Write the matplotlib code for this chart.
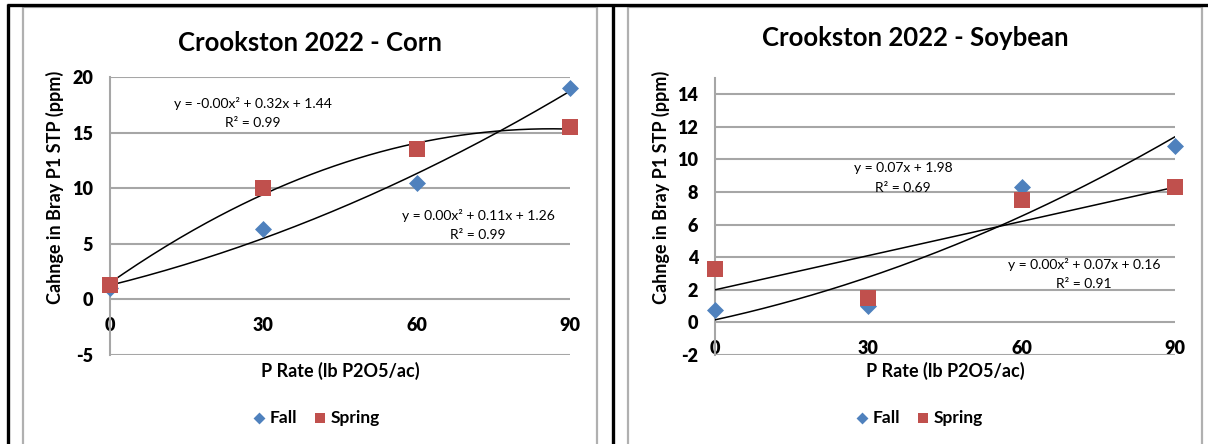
import numpy as np
import matplotlib.pyplot as plt
from matplotlib.lines import Line2D

plt.rcParams['font.family'] = ['Lato', 'DejaVu Sans']
plt.rcParams['axes.unicode_minus'] = False

rates = [0, 30, 60, 90]

corn_fall = [1.0, 6.3, 10.5, 19.0]
corn_spring = [1.3, 10.0, 13.5, 15.5]
soy_fall = [0.75, 1.0, 8.3, 10.8]
soy_spring = [3.3, 1.5, 7.5, 8.3]

corn_fall_eq = ["y = 0.00x² + 0.11x + 1.26", "R² = 0.99"]
corn_spring_eq = ["y = -0.00x² + 0.32x + 1.44", "R² = 0.99"]
soy_fall_eq = ["y = 0.00x² + 0.07x + 0.16", "R² = 0.91"]
soy_spring_eq = ["y = 0.07x + 1.98", "R² = 0.69"]

W, H = 1208, 444
fall_c = '#4F81BD'
spring_c = '#C0504D'
grid_c = '#A6A6A6'

fig = plt.figure(figsize=(W / 100, H / 100), dpi=100)


def fx(px):
    return px / W


def fy(py):
    return 1 - py / H


def trend(ax, x, y, deg):
    coef = np.polyfit(x, y, deg)
    xs = np.linspace(min(x), max(x), 200)
    ax.plot(xs, np.polyval(coef, xs), color='black', lw=1.1, zorder=3)


def panel(left_px, top_px, ylim, yticks, fall, spring, fall_deg, spring_deg):
    # plot area runs from top_px down to y=355 px, x from left_px over 460 px
    ax = fig.add_axes([fx(left_px), fy(355), fx(460), (355 - top_px) / H])
    ax.set_xlim(0, 90)
    ax.set_ylim(*ylim)
    for s in ['top', 'right']:
        ax.spines[s].set_visible(False)
    ax.spines['left'].set_color(grid_c)
    ax.spines['left'].set_linewidth(1.5)
    ax.spines['bottom'].set_position(('data', 0))
    ax.spines['bottom'].set_visible(False)
    ax.set_yticks(yticks)
    ax.set_xticks(rates)
    for t in yticks:
        ax.axhline(t, color=grid_c, lw=1.5, zorder=1)
    ax.tick_params(axis='y', length=0, pad=12, labelsize=13)
    ax.tick_params(axis='x', length=0, pad=13, labelsize=13)
    for lab in ax.get_xticklabels() + ax.get_yticklabels():
        lab.set_fontweight('heavy')
    ax.set_facecolor('none')

    trend(ax, rates, fall, fall_deg)
    trend(ax, rates, spring, spring_deg)
    ax.scatter(rates, fall, marker='D', s=75, color=fall_c, zorder=4, clip_on=False, label='Fall', linewidths=0)
    ax.scatter(rates, spring, marker='s', s=120, color=spring_c, zorder=5, clip_on=False, label='Spring', linewidths=0)
    return ax


# Corn panel
ax1 = panel(110, 77, (-5, 20), [-5, 0, 5, 10, 15, 20], corn_fall, corn_spring, 2, 2)
# Soybean panel
ax2 = panel(715, 78, (-2, 15), [-2, 0, 2, 4, 6, 8, 10, 12, 14], soy_fall, soy_spring, 2, 1)


def eq_text(cx, cy, lines):
    fig.text(fx(cx), fy(cy), lines[0], ha='center', va='center', fontsize=10)
    fig.text(fx(cx), fy(cy + 20), lines[1], ha='center', va='center', fontsize=10)


eq_text(253, 103, corn_spring_eq)
eq_text(478, 215, corn_fall_eq)
eq_text(903, 168, soy_spring_eq)
eq_text(1084, 264, soy_fall_eq)

# titles and axis labels
fig.text(fx(310), fy(43), 'Crookston 2022 - Corn', ha='center', va='center', fontsize=18.5, fontweight='bold')
fig.text(fx(915), fy(38), 'Crookston 2022 - Soybean', ha='center', va='center', fontsize=18.5, fontweight='bold')
for cx in (340, 945):
    fig.text(fx(cx), fy(371), 'P Rate (lb P2O5/ac)', ha='center', va='center', fontsize=13, fontweight='bold')
for cx in (55, 661):
    fig.text(fx(cx), fy(187), 'Cahnge in Bray P1 STP (ppm)', ha='center', va='center',
             rotation=90, fontsize=13, fontweight='bold')

# legends
for ax, cx in ((ax1, 315), (ax2, 918)):
    leg = ax.legend(loc='center', bbox_to_anchor=(fx(cx), fy(418)), bbox_transform=fig.transFigure,
                    ncol=2, frameon=False, fontsize=12.5, handletextpad=0.1, columnspacing=0.8,
                    markerscale=0.7, handlelength=1.0)
    for t in leg.get_texts():
        t.set_fontweight('bold')


# panel frames
def seg(x0, y0, x1, y1, color, lw):
    fig.add_artist(Line2D([fx(x0), fx(x1)], [fy(y0), fy(y1)], color=color, lw=lw,
                          transform=fig.transFigure, solid_capstyle='butt'))


for (l, r) in ((23, 597), (628, 1202)):
    seg(l, 7, l, 444, '#B0B0B0', 1.6)
    seg(r, 7, r, 444, '#B0B0B0', 1.6)
    seg(l, 7, r, 7, '#B0B0B0', 1.6)
seg(7, 5, 1208, 5, 'black', 2.4)
seg(8, 4, 8, 444, 'black', 2.4)
seg(612.5, 4, 612.5, 444, 'black', 2.4)

fig.savefig('out.png', dpi=100)
